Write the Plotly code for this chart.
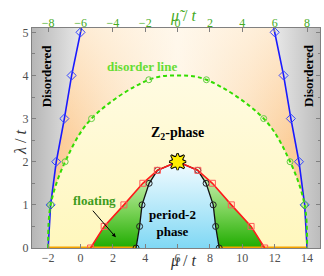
import plotly.graph_objects as go

# ---------------- data ----------------
blue_left_mu = [-2.0, -1.85, -1.5, -1.0, -0.55, 0.0]
blue_left_lam = [0.0, 1.0, 2.0, 3.0, 4.0, 5.0]
blue_right_mu = [14.0, 13.85, 13.5, 13.0, 12.55, 12.0]
blue_right_lam = [0.0, 1.0, 2.0, 3.0, 4.0, 5.0]

disorder_mu = [-2.0, -1.85, -0.95, 0.68, 4.22, 6.0, 7.78, 11.32, 12.95, 13.85, 14.0]
disorder_lam = [0.0, 1.0, 2.0, 3.0, 3.9, 4.0, 3.9, 3.0, 2.0, 1.0, 0.0]
disorder_marked = [1, 2, 3, 4, 6, 7, 8, 9]

red_mu = [0.62, 1.46, 2.68, 3.85, 4.75, 6.0, 7.25, 8.15, 9.32, 10.54, 11.38]
red_lam = [0.0, 0.5, 1.0, 1.5, 1.8, 2.0, 1.8, 1.5, 1.0, 0.5, 0.0]

black_mu = [3.43, 3.65, 3.8, 4.24, 4.75, 6.0, 7.25, 7.76, 8.2, 8.35, 8.57]
black_lam = [0.0, 0.5, 1.0, 1.5, 1.8, 2.0, 1.8, 1.5, 1.0, 0.5, 0.0]

x_ticks = [-2, 0, 2, 4, 6, 8, 10, 12, 14]
top_ticks = [-8, -6, -4, -2, 0, 2, 4, 6, 8]
y_ticks = [0, 1, 2, 3, 4, 5]
mu_shift = 6.0

X_RANGE = [-3.0, 14.8]
Y_RANGE = [0.0, 5.1]

SERIF = "Liberation Serif, Times New Roman, serif"


def extend_to_top(mu, lam, ytop):
    slope = (mu[-1] - mu[-2]) / (lam[-1] - lam[-2])
    return mu[-1] + slope * (ytop - lam[-1])


x0, x1 = X_RANGE
y1 = Y_RANGE[1]
extL = extend_to_top(blue_left_mu, blue_left_lam, y1)
extR = extend_to_top(blue_right_mu, blue_right_lam, y1)

fig = go.Figure()

# gray disordered regions
fig.add_trace(go.Scatter(
    x=[x0] + blue_left_mu + [extL, x0], y=[0.0] + blue_left_lam + [y1, y1],
    fill="toself", mode="none",
    fillgradient=dict(type="horizontal", start=x0, stop=blue_left_mu[-1],
                      colorscale=[[0, "#b6b6b6"], [1, "#e8e8e8"]]),
    hoverinfo="skip"))
fig.add_trace(go.Scatter(
    x=[x1] + blue_right_mu + [extR, x1], y=[0.0] + blue_right_lam + [y1, y1],
    fill="toself", mode="none",
    fillgradient=dict(type="horizontal", start=blue_right_mu[-1], stop=x1,
                      colorscale=[[0, "#e8e8e8"], [1, "#bcbcbc"]]),
    hoverinfo="skip"))

# peach region between the blue lines
peach_x = blue_left_mu + [extL, extR] + blue_right_mu[::-1]
peach_y = blue_left_lam + [y1, y1] + blue_right_lam[::-1]
fig.add_trace(go.Scatter(
    x=peach_x, y=peach_y, fill="toself", mode="none",
    fillgradient=dict(type="horizontal", start=blue_left_mu[0], stop=blue_right_mu[0],
                      colorscale=[[0, "#fbc88f"], [0.22, "#fddfba"], [0.5, "#fff5e6"],
                                  [0.78, "#fddfba"], [1, "#fbc88f"]]),
    hoverinfo="skip"))
fig.add_trace(go.Scatter(
    x=peach_x, y=peach_y, fill="toself", mode="none",
    fillgradient=dict(type="vertical", start=2.5, stop=y1,
                      colorscale=[[0, "rgba(255,250,240,0)"], [1, "rgba(255,250,240,0.6)"]]),
    hoverinfo="skip"))

# yellow Z2 region inside disorder line
fig.add_trace(go.Scatter(
    x=disorder_mu, y=disorder_lam, fill="toself", mode="lines",
    line=dict(width=0, shape="spline", color="rgba(0,0,0,0)"),
    fillgradient=dict(type="vertical", start=0, stop=4.0,
                      colorscale=[[0, "#fff7bd"], [1, "#fffbe2"]]),
    hoverinfo="skip"))

# floating (green) regions
green_scale = [[0, "#1fac00"], [0.5, "#7fd45c"], [1, "#d4f2c0"]]
fig.add_trace(go.Scatter(
    x=red_mu[:5] + black_mu[:5][::-1], y=red_lam[:5] + black_lam[:5][::-1],
    fill="toself", mode="none",
    fillgradient=dict(type="vertical", start=0, stop=red_lam[4], colorscale=green_scale),
    hoverinfo="skip"))
fig.add_trace(go.Scatter(
    x=red_mu[6:] + black_mu[6:][::-1], y=red_lam[6:] + black_lam[6:][::-1],
    fill="toself", mode="none",
    fillgradient=dict(type="vertical", start=0, stop=red_lam[6], colorscale=green_scale),
    hoverinfo="skip"))

# period-2 (blue) region
fig.add_trace(go.Scatter(
    x=black_mu, y=black_lam, fill="toself", mode="none",
    fillgradient=dict(type="vertical", start=0, stop=black_lam[5],
                      colorscale=[[0, "#80d8f4"], [1, "#f2fbff"]]),
    hoverinfo="skip"))

# orange line at lambda = 0
fig.add_trace(go.Scatter(
    x=[blue_left_mu[0], black_mu[0], None, black_mu[-1], blue_right_mu[0]],
    y=[0.0, 0.0, None, 0.0, 0.0], mode="lines",
    line=dict(color="#f5a300", width=3), hoverinfo="skip"))

# black boundary of period-2 phase
fig.add_trace(go.Scatter(
    x=black_mu, y=black_lam, mode="lines+markers",
    line=dict(color="#111111", width=1.3),
    marker=dict(symbol="circle-open", size=6, color="#222222", line=dict(width=1)),
    hoverinfo="skip"))

# red line
fig.add_trace(go.Scatter(
    x=red_mu, y=red_lam, mode="lines+markers",
    line=dict(color="#ff1a1a", width=1.6),
    marker=dict(symbol="square-open", size=6, color="#ff5a5a", line=dict(width=1)),
    hoverinfo="skip"))

# blue lines
for mu, lam, ext in [(blue_left_mu, blue_left_lam, extL), (blue_right_mu, blue_right_lam, extR)]:
    fig.add_trace(go.Scatter(
        x=mu + [ext], y=lam + [y1], mode="lines",
        line=dict(color="#1a1aff", width=1.6), hoverinfo="skip"))
    fig.add_trace(go.Scatter(
        x=mu[1:], y=lam[1:], mode="markers",
        marker=dict(symbol="diamond-open", size=7, color="#3344ff", line=dict(width=1)),
        hoverinfo="skip"))

# disorder line (green dashed)
fig.add_trace(go.Scatter(
    x=disorder_mu, y=disorder_lam, mode="lines",
    line=dict(color="#33dd00", width=2, dash="4px,3px", shape="spline"),
    hoverinfo="skip"))
fig.add_trace(go.Scatter(
    x=[disorder_mu[i] for i in disorder_marked], y=[disorder_lam[i] for i in disorder_marked],
    mode="markers",
    marker=dict(symbol="circle-open", size=6, color="#66cc44", line=dict(width=1)),
    hoverinfo="skip"))

# star at the apex of the red line
star_mu = [red_mu[5]]
star_lam = [red_lam[5]]
for sym in ["star-square", "star-diamond"]:
    fig.add_trace(go.Scatter(
        x=star_mu, y=star_lam, mode="markers",
        marker=dict(symbol=sym, size=12, color="#ffee00", line=dict(color="black", width=2)),
        hoverinfo="skip"))
for sym in ["star-square", "star-diamond"]:
    fig.add_trace(go.Scatter(
        x=star_mu, y=star_lam, mode="markers",
        marker=dict(symbol=sym, size=12, color="#ffee00", line=dict(width=0)),
        hoverinfo="skip"))

# invisible trace to register the top axis
fig.add_trace(go.Scatter(x=[top_ticks[0]], y=[None], xaxis="x2", mode="markers",
                         showlegend=False, hoverinfo="skip"))

AX = "#808080"
TICKFONT = dict(family=SERIF, size=12, color="#505050")

fig.update_layout(
    template="none",
    width=324, height=276,
    margin=dict(l=32, r=4, t=28, b=28, autoexpand=False),
    paper_bgcolor="white", plot_bgcolor="white",
    showlegend=False,
    font=dict(family=SERIF, size=12, color="#505050"),
    xaxis=dict(range=X_RANGE, tickvals=x_ticks, ticks="inside", ticklen=4, automargin=False,
               tickcolor=AX, showline=True, linecolor=AX, linewidth=1, mirror=True,
               showgrid=False, zeroline=False, tickfont=TICKFONT, ticklabelstandoff=-1),
    xaxis2=dict(range=[X_RANGE[0] - mu_shift, X_RANGE[1] - mu_shift], overlaying="x",
                side="top", tickvals=top_ticks, ticks="inside", ticklen=4, tickcolor=AX,
                automargin=False, ticklabelstandoff=-5,
                showline=True, linecolor=AX, showgrid=False, zeroline=False,
                tickfont=dict(family=SERIF, size=12, color="#44aa22")),
    yaxis=dict(range=Y_RANGE, tickvals=y_ticks, ticks="inside", ticklen=4, tickcolor=AX,
               automargin=False,
               showline=True, linecolor=AX, linewidth=1, mirror="ticks",
               showgrid=False, zeroline=False, tickfont=TICKFONT,
               minor=dict(dtick=0.5, ticks="inside", ticklen=2.5, tickcolor=AX)),
)

ann = []
ann.append(dict(x=0.524, y=-0.107, xref="paper", yref="paper", text="<i>μ</i> / <i>t</i>",
                showarrow=False, font=dict(family=SERIF, size=16, color="#333333")))
ann.append(dict(x=0.526, y=1.103, xref="paper", yref="paper", text="<i>μ\u0303</i> / <i>t</i>",
                showarrow=False, font=dict(family=SERIF, size=16, color="#44aa22")))
ann.append(dict(x=-0.076, y=0.48, xref="paper", yref="paper", text="<i>λ</i> / <i>t</i>",
                textangle=-90, showarrow=False, font=dict(family=SERIF, size=16, color="#333333")))
ann.append(dict(x=-2.08, y=4.0, text="<b>Disordered</b>", textangle=-90, showarrow=False,
                font=dict(family=SERIF, size=13, color="black")))
ann.append(dict(x=14.09, y=4.0, text="<b>Disordered</b>", textangle=-90, showarrow=False,
                font=dict(family=SERIF, size=13, color="black")))
ann.append(dict(x=3.79, y=4.2, text="<b>disorder line</b>", showarrow=False,
                font=dict(family=SERIF, size=13, color="#66dd33")))
ann.append(dict(x=6.0, y=2.66, text="<b>Z<sub>2</sub>-phase</b>", showarrow=False,
                font=dict(family=SERIF, size=14, color="black")))
ann.append(dict(x=0.88, y=1.11, text="<b>floating</b>", showarrow=False,
                font=dict(family=SERIF, size=13, color="#3d9c1c")))
ann.append(dict(x=2.18, y=0.25, ax=0.68, ay=0.9, axref="x", ayref="y", text="",
                showarrow=True, arrowhead=2, arrowsize=0.8, arrowwidth=1, arrowcolor="black"))
ann.append(dict(x=5.7, y=0.585, text="<b>period-2<br>phase</b>", showarrow=False,
                font=dict(family=SERIF, size=13, color="black")))
fig.update_layout(annotations=ann)

fig.write_html("out.html", config={"displayModeBar": False},
               post_script="document.body.style.margin='0';document.body.style.overflow='hidden';")
